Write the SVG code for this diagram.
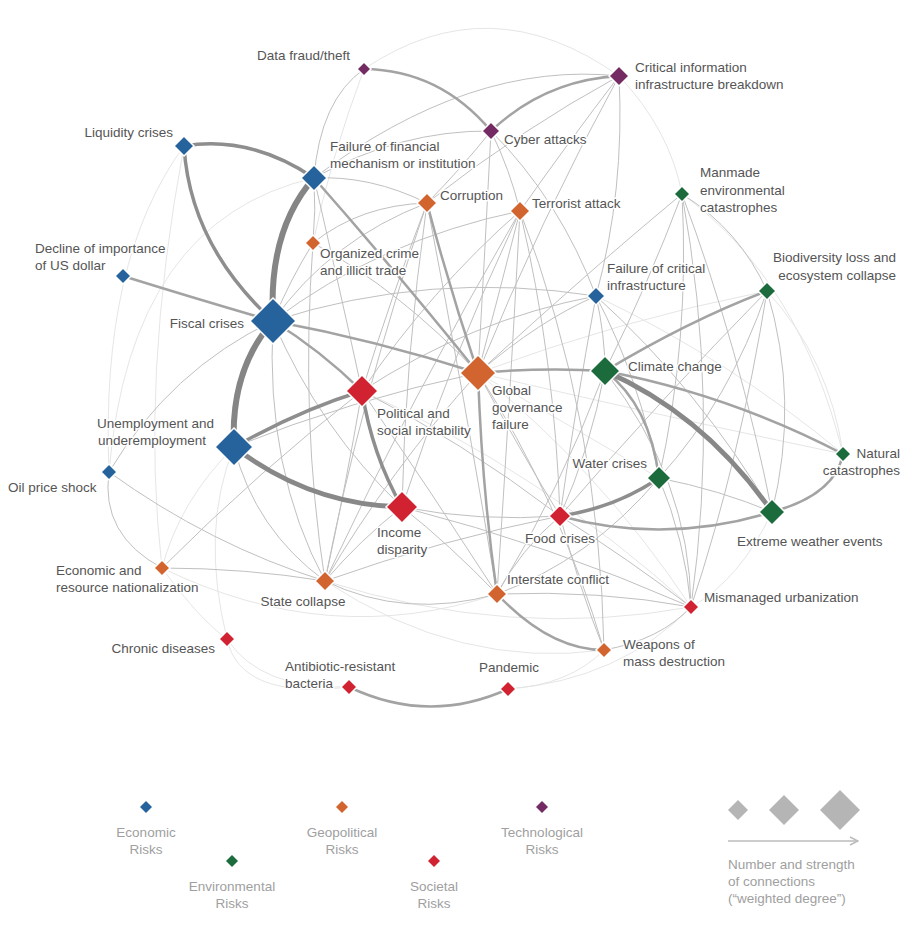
<svg xmlns="http://www.w3.org/2000/svg" width="906" height="938" viewBox="0 0 906 938">
<defs>
<style>
text{font-family:"Liberation Sans",Arial,sans-serif;font-size:13.5px;fill:#555;stroke:#fff;stroke-width:3px;paint-order:stroke;stroke-linejoin:round}
.lg{fill:#a0a0a0;stroke:none}
path.e{fill:none;stroke-linecap:round}
.t1{stroke:#e2e2e2;stroke-width:0.9}
.t2{stroke:#c0c0c0;stroke-width:1}
.t3{stroke:#a3a3a3;stroke-width:2.5}
.t4{stroke:#8e8e8e;stroke-width:3.5}
.t5{stroke:#888;stroke-width:4.8}
.t6{stroke:#858585;stroke-width:6}
.d{stroke:#fff;stroke-width:1.5}
.eco{fill:#26629c}
.geo{fill:#d2642f}
.soc{fill:#d02230}
.env{fill:#1c6b3c}
.tec{fill:#742b63}
.gry{fill:#b5b5b5}
</style>
<marker id="arr" viewBox="0 0 10 10" refX="9" refY="5" markerWidth="10" markerHeight="10" markerUnits="userSpaceOnUse" orient="auto">
<path d="M1,1 L9,5 L1,9" fill="none" stroke="#bbb" stroke-width="1.5"/>
</marker>
</defs>
<rect width="906" height="938" fill="#fff"/>
<g id="connectors">
<path class="e t1" d="M364,69 Q490,-16 619,76"/>
<path class="e t1" d="M364,69 Q330,160 313,243"/>
<path class="e t1" d="M314,178 Q130,220 109,472"/>
<path class="e t1" d="M184,146 Q100,260 109,472"/>
<path class="e t1" d="M184,146 Q140,380 162,568"/>
<path class="e t1" d="M234,447 Q180,500 162,568"/>
<path class="e t1" d="M227,639 Q200,530 234,447"/>
<path class="e t1" d="M227,639 Q260,690 349,687"/>
<path class="e t1" d="M508,689 Q570,685 604,650"/>
<path class="e t1" d="M508,689 Q620,680 691,607"/>
<path class="e t1" d="M772,512 Q740,580 691,607"/>
<path class="e t1" d="M325,581 Q460,670 604,650"/>
<path class="e t1" d="M162,568 Q330,650 497,594"/>
<path class="e t1" d="M325,581 Q510,640 691,607"/>
<path class="e t1" d="M619,76 Q670,130 682,194"/>
<path class="e t1" d="M682,194 Q800,280 843,454"/>
<path class="e t1" d="M767,291 Q830,360 843,454"/>
<path class="e t1" d="M596,296 Q730,360 843,454"/>
<path class="e t1" d="M767,291 Q620,320 478,373"/>
<path class="e t1" d="M659,478 Q560,420 478,373"/>
<path class="e t1" d="M478,373 Q600,470 691,607"/>
<path class="e t1" d="M362,391 Q540,470 691,607"/>
<path class="e t1" d="M227,639 Q240,700 349,687"/>
<path class="e t1" d="M162,568 Q200,620 227,639"/>
<path class="e t1" d="M478,373 Q680,420 843,454"/>
<path class="e t2" d="M273,321 Q265,470 325,581"/>
<path class="e t2" d="M273,321 Q320,430 402,507"/>
<path class="e t2" d="M234,447 Q255,530 325,581"/>
<path class="e t2" d="M362,391 Q345,490 325,581"/>
<path class="e t2" d="M402,507 Q360,540 325,581"/>
<path class="e t2" d="M478,373 Q390,470 325,581"/>
<path class="e t2" d="M427,203 Q360,400 325,581"/>
<path class="e t2" d="M520,211 Q410,400 325,581"/>
<path class="e t2" d="M478,373 Q520,450 560,516"/>
<path class="e t2" d="M362,391 Q460,440 560,516"/>
<path class="e t2" d="M402,507 Q480,522 560,516"/>
<path class="e t2" d="M402,507 Q450,545 497,594"/>
<path class="e t2" d="M402,507 Q550,545 691,607"/>
<path class="e t2" d="M362,391 Q430,490 497,594"/>
<path class="e t2" d="M325,581 Q405,620 497,594"/>
<path class="e t2" d="M162,568 Q245,568 325,581"/>
<path class="e t2" d="M109,472 Q210,545 325,581"/>
<path class="e t2" d="M109,472 Q100,535 162,568"/>
<path class="e t2" d="M109,472 Q170,370 273,321"/>
<path class="e t2" d="M162,568 Q260,470 362,391"/>
<path class="e t2" d="M314,178 Q470,60 619,76"/>
<path class="e t2" d="M491,131 Q485,250 478,373"/>
<path class="e t2" d="M491,131 Q510,170 520,211"/>
<path class="e t2" d="M619,76 Q570,140 520,211"/>
<path class="e t2" d="M619,76 Q520,130 427,203"/>
<path class="e t2" d="M619,76 Q540,220 478,373"/>
<path class="e t2" d="M619,76 Q625,190 596,296"/>
<path class="e t2" d="M520,211 Q500,290 478,373"/>
<path class="e t2" d="M520,211 Q430,290 362,391"/>
<path class="e t2" d="M520,211 Q450,360 402,507"/>
<path class="e t2" d="M520,211 Q510,400 497,594"/>
<path class="e t2" d="M520,211 Q600,420 604,650"/>
<path class="e t2" d="M520,211 Q555,360 560,516"/>
<path class="e t2" d="M427,203 Q390,300 362,391"/>
<path class="e t2" d="M427,203 Q405,360 402,507"/>
<path class="e t2" d="M427,203 Q465,400 497,594"/>
<path class="e t2" d="M313,243 Q400,290 478,373"/>
<path class="e t2" d="M313,243 Q300,420 325,581"/>
<path class="e t2" d="M427,203 Q360,205 313,243"/>
<path class="e t2" d="M596,296 Q430,270 273,321"/>
<path class="e t2" d="M596,296 Q540,320 478,373"/>
<path class="e t2" d="M596,296 Q605,335 605,371"/>
<path class="e t2" d="M596,296 Q640,380 659,478"/>
<path class="e t2" d="M596,296 Q700,390 772,512"/>
<path class="e t2" d="M596,296 Q575,410 560,516"/>
<path class="e t2" d="M596,296 Q470,320 362,391"/>
<path class="e t2" d="M682,194 Q590,270 478,373"/>
<path class="e t2" d="M682,194 Q650,280 605,371"/>
<path class="e t2" d="M682,194 Q690,340 659,478"/>
<path class="e t2" d="M682,194 Q740,350 772,512"/>
<path class="e t2" d="M682,194 Q740,230 767,291"/>
<path class="e t2" d="M682,194 Q720,400 691,607"/>
<path class="e t2" d="M767,291 Q730,400 659,478"/>
<path class="e t2" d="M767,291 Q800,400 772,512"/>
<path class="e t2" d="M767,291 Q660,400 560,516"/>
<path class="e t2" d="M767,291 Q740,460 691,607"/>
<path class="e t2" d="M605,371 Q590,450 560,516"/>
<path class="e t2" d="M605,371 Q690,480 691,607"/>
<path class="e t2" d="M605,371 Q560,490 497,594"/>
<path class="e t2" d="M659,478 Q720,490 772,512"/>
<path class="e t2" d="M659,478 Q685,540 691,607"/>
<path class="e t2" d="M659,478 Q590,560 497,594"/>
<path class="e t2" d="M560,516 Q520,550 497,594"/>
<path class="e t2" d="M560,516 Q630,560 691,607"/>
<path class="e t2" d="M560,516 Q580,590 604,650"/>
<path class="e t2" d="M497,594 Q600,590 691,607"/>
<path class="e t2" d="M604,650 Q660,640 691,607"/>
<path class="e t2" d="M478,373 Q560,500 604,650"/>
<path class="e t2" d="M560,516 Q440,540 325,581"/>
<path class="e t2" d="M364,69 Q320,100 314,178"/>
<path class="e t2" d="M314,178 Q370,175 427,203"/>
<path class="e t2" d="M314,178 Q316,210 313,243"/>
<path class="e t2" d="M491,131 Q400,130 314,178"/>
<path class="e t2" d="M491,131 Q460,170 427,203"/>
<path class="e t2" d="M273,321 Q330,240 427,203"/>
<path class="e t2" d="M273,321 Q380,240 520,211"/>
<path class="e t2" d="M234,447 Q350,400 478,373"/>
<path class="e t2" d="M273,321 Q290,280 313,243"/>
<path class="e t2" d="M314,178 Q340,290 362,391"/>
<path class="e t2" d="M491,131 Q560,200 596,296"/>
<path class="e t3" d="M605,371 Q650,405 659,478"/>
<path class="e t3" d="M560,516 Q665,545 772,512"/>
<path class="e t3" d="M843,454 Q835,495 772,512"/>
<path class="e t3" d="M605,371 Q730,395 843,454"/>
<path class="e t3" d="M767,291 Q690,320 605,371"/>
<path class="e t3" d="M478,373 Q545,367 605,371"/>
<path class="e t3" d="M478,373 Q482,490 497,594"/>
<path class="e t3" d="M497,594 Q550,650 604,650"/>
<path class="e t3" d="M349,687 Q429,725 508,689"/>
<path class="e t3" d="M364,69 Q440,70 491,131"/>
<path class="e t3" d="M491,131 Q545,80 619,76"/>
<path class="e t3" d="M314,178 Q395,270 478,373"/>
<path class="e t3" d="M427,203 Q450,290 478,373"/>
<path class="e t3" d="M123,276 Q200,300 273,321"/>
<path class="e t3" d="M273,321 Q375,340 478,373"/>
<path class="e t3" d="M273,321 Q320,350 362,391"/>
<path class="e t4" d="M184,146 Q250,135 314,178"/>
<path class="e t4" d="M184,146 Q190,245 273,321"/>
<path class="e t4" d="M234,447 Q300,410 362,391"/>
<path class="e t4" d="M362,391 Q372,455 402,507"/>
<path class="e t4" d="M659,478 Q615,508 560,516"/>
<path class="e t5" d="M234,447 Q310,505 402,507"/>
<path class="e t5" d="M605,371 Q705,415 772,512"/>
<path class="e t6" d="M314,178 Q268,230 273,321"/>
<path class="e t6" d="M273,321 Q230,370 234,447"/>
</g>
<g id="n-data-fraud"><path class="d tec" d="M364,62 L371,69 L364,76 L357,69 Z"/><text x="350" y="60" text-anchor="end">Data fraud/theft</text></g>
<g id="n-critical-info"><path class="d tec" d="M619,66 L629,76 L619,86 L609,76 Z"/><text x="635" y="72">Critical information</text><text x="635" y="89">infrastructure breakdown</text></g>
<g id="n-cyber"><path class="d tec" d="M491,122 L500,131 L491,140 L482,131 Z"/><text x="504" y="144">Cyber attacks</text></g>
<g id="n-liquidity"><path class="d eco" d="M184,136 L194,146 L184,156 L174,146 Z"/><text x="173" y="137" text-anchor="end">Liquidity crises</text></g>
<g id="n-fail-fin"><path class="d eco" d="M314,165 L327,178 L314,191 L301,178 Z"/><text x="330" y="151">Failure of financial</text><text x="330" y="168">mechanism or institution</text></g>
<g id="n-corruption"><path class="d geo" d="M427,193 L437,203 L427,213 L417,203 Z"/><text x="440" y="200">Corruption</text></g>
<g id="n-terrorist"><path class="d geo" d="M520,201 L530,211 L520,221 L510,211 Z"/><text x="532" y="208">Terrorist attack</text></g>
<g id="n-manmade"><path class="d env" d="M682,186 L690,194 L682,202 L674,194 Z"/><text x="700" y="177">Manmade</text><text x="700" y="195">environmental</text><text x="700" y="212">catastrophes</text></g>
<g id="n-organized-crime"><path class="d geo" d="M313,235 L321,243 L313,251 L305,243 Z"/><text x="320" y="258">Organized crime</text><text x="320" y="275">and illicit trade</text></g>
<g id="n-us-dollar"><path class="d eco" d="M123,268 L131,276 L123,284 L115,276 Z"/><text x="35" y="253">Decline of importance</text><text x="35" y="270">of US dollar</text></g>
<g id="n-fail-crit-infra"><path class="d eco" d="M596,287 L605,296 L596,305 L587,296 Z"/><text x="607" y="273">Failure of critical</text><text x="607" y="290">infrastructure</text></g>
<g id="n-biodiversity"><path class="d env" d="M767,282 L776,291 L767,300 L758,291 Z"/><text x="896" y="262" text-anchor="end">Biodiversity loss and</text><text x="896" y="280" text-anchor="end">ecosystem collapse</text></g>
<g id="n-fiscal"><path class="d eco" d="M273,298 L296,321 L273,344 L250,321 Z"/><text x="244" y="328" text-anchor="end">Fiscal crises</text></g>
<g id="n-climate"><path class="d env" d="M605,356 L620,371 L605,386 L590,371 Z"/><text x="628" y="371">Climate change</text></g>
<g id="n-global-gov"><path class="d geo" d="M478,355 L496,373 L478,391 L460,373 Z"/><text x="492" y="395">Global</text><text x="492" y="412">governance</text><text x="492" y="429">failure</text></g>
<g id="n-political"><path class="d soc" d="M362,375 L378,391 L362,407 L346,391 Z"/><text x="377" y="418">Political and</text><text x="377" y="435">social instability</text></g>
<g id="n-unemployment"><path class="d eco" d="M234,428 L253,447 L234,466 L215,447 Z"/><text x="97" y="428">Unemployment and</text><text x="98" y="445">underemployment</text></g>
<g id="n-oil"><path class="d eco" d="M109,464 L117,472 L109,480 L101,472 Z"/><text x="8" y="492">Oil price shock</text></g>
<g id="n-natural"><path class="d env" d="M843,446 L851,454 L843,462 L835,454 Z"/><text x="900" y="458" text-anchor="end">Natural</text><text x="900" y="475" text-anchor="end">catastrophes</text></g>
<g id="n-water"><path class="d env" d="M659,466 L671,478 L659,490 L647,478 Z"/><text x="647" y="468" text-anchor="end">Water crises</text></g>
<g id="n-income"><path class="d soc" d="M402,491 L418,507 L402,523 L386,507 Z"/><text x="377" y="537">Income</text><text x="377" y="554">disparity</text></g>
<g id="n-food"><path class="d soc" d="M560,505 L571,516 L560,527 L549,516 Z"/><text x="560" y="543" text-anchor="middle">Food crises</text></g>
<g id="n-extreme"><path class="d env" d="M772,499 L785,512 L772,525 L759,512 Z"/><text x="737" y="546">Extreme weather events</text></g>
<g id="n-nationalization"><path class="d geo" d="M162,560 L170,568 L162,576 L154,568 Z"/><text x="56" y="575">Economic and</text><text x="56" y="592">resource nationalization</text></g>
<g id="n-state-collapse"><path class="d geo" d="M325,571 L335,581 L325,591 L315,581 Z"/><text x="303" y="606" text-anchor="middle">State collapse</text></g>
<g id="n-interstate"><path class="d geo" d="M497,584 L507,594 L497,604 L487,594 Z"/><text x="507" y="584">Interstate conflict</text></g>
<g id="n-urbanization"><path class="d soc" d="M691,599 L699,607 L691,615 L683,607 Z"/><text x="704" y="602">Mismanaged urbanization</text></g>
<g id="n-chronic"><path class="d soc" d="M227,631 L235,639 L227,647 L219,639 Z"/><text x="215" y="653" text-anchor="end">Chronic diseases</text></g>
<g id="n-weapons"><path class="d geo" d="M604,642 L612,650 L604,658 L596,650 Z"/><text x="623" y="649">Weapons of</text><text x="623" y="666">mass destruction</text></g>
<g id="n-antibiotic"><path class="d soc" d="M349,679 L357,687 L349,695 L341,687 Z"/><text x="285" y="671">Antibiotic-resistant</text><text x="285" y="688">bacteria</text></g>
<g id="n-pandemic"><path class="d soc" d="M508,681 L516,689 L508,697 L500,689 Z"/><text x="509" y="672" text-anchor="middle">Pandemic</text></g>
<g id="legend">
<path class="eco" d="M146,801 L152,807 L146,813 L140,807 Z"/>
<text class="lg" x="146" y="837" text-anchor="middle">Economic</text><text class="lg" x="146" y="854" text-anchor="middle">Risks</text>
<path class="geo" d="M342,801 L348,807 L342,813 L336,807 Z"/>
<text class="lg" x="342" y="837" text-anchor="middle">Geopolitical</text><text class="lg" x="342" y="854" text-anchor="middle">Risks</text>
<path class="tec" d="M542,801 L548,807 L542,813 L536,807 Z"/>
<text class="lg" x="542" y="837" text-anchor="middle">Technological</text><text class="lg" x="542" y="854" text-anchor="middle">Risks</text>
<path class="env" d="M232,855 L238,861 L232,867 L226,861 Z"/>
<text class="lg" x="232" y="891" text-anchor="middle">Environmental</text><text class="lg" x="232" y="908" text-anchor="middle">Risks</text>
<path class="soc" d="M434,855 L440,861 L434,867 L428,861 Z"/>
<text class="lg" x="434" y="891" text-anchor="middle">Societal</text><text class="lg" x="434" y="908" text-anchor="middle">Risks</text>
<path class="gry" d="M738,800 L748,810 L738,820 L728,810 Z"/>
<path class="gry" d="M784,795 L799,810 L784,825 L769,810 Z"/>
<path class="gry" d="M840,790 L860,810 L840,830 L820,810 Z"/>
<path d="M728,841 L858,841" fill="none" stroke="#bbb" stroke-width="1.5" marker-end="url(#arr)"/>
<text class="lg" x="728" y="869">Number and strength</text>
<text class="lg" x="728" y="886">of connections</text>
<text class="lg" x="728" y="903">(“weighted degree”)</text>
</g>
</svg>
